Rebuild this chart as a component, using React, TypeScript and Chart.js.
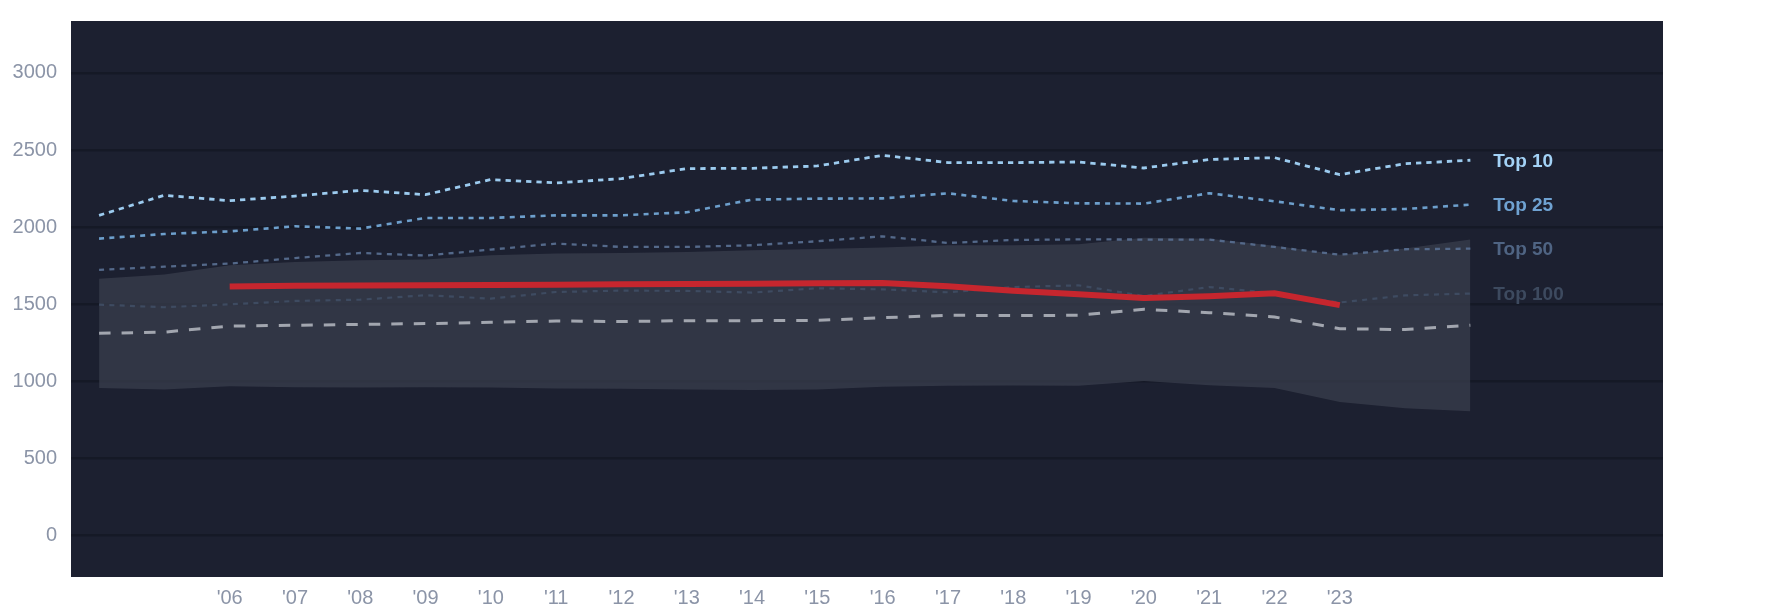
import React, { useEffect, useRef } from "react";
import { Chart, registerables } from "chart.js";

Chart.register(...registerables);

const years = [2004, 2005, 2006, 2007, 2008, 2009, 2010, 2011, 2012, 2013, 2014, 2015, 2016, 2017, 2018, 2019, 2020, 2021, 2022, 2023, 2024, 2025];
const top10 = [2077, 2207, 2172, 2202, 2239, 2211, 2309, 2287, 2315, 2380, 2382, 2397, 2466, 2419, 2419, 2423, 2384, 2439, 2451, 2341, 2412, 2434];
const top25 = [1926, 1956, 1973, 2006, 1991, 2060, 2060, 2077, 2077, 2097, 2179, 2185, 2187, 2220, 2170, 2155, 2153, 2220, 2168, 2110, 2118, 2146];
const top50 = [1723, 1744, 1764, 1800, 1833, 1816, 1855, 1894, 1872, 1872, 1883, 1909, 1941, 1898, 1917, 1921, 1920, 1920, 1872, 1822, 1857, 1861];
const top100 = [1498, 1481, 1500, 1522, 1530, 1559, 1537, 1580, 1589, 1587, 1576, 1604, 1597, 1578, 1612, 1623, 1554, 1612, 1573, 1512, 1558, 1570];
const greyLine = [1312, 1320, 1359, 1364, 1370, 1375, 1383, 1392, 1388, 1394, 1394, 1396, 1413, 1429, 1427, 1429, 1468, 1446, 1418, 1342, 1336, 1364];
const bandLow = [957, 947, 968, 962, 960, 962, 960, 955, 953, 948, 944, 947, 966, 972, 973, 972, 1003, 975, 957, 867, 826, 807];
const bandHigh = [1666, 1694, 1753, 1774, 1785, 1790, 1818, 1829, 1833, 1839, 1850, 1859, 1868, 1883, 1883, 1889, 1932, 1925, 1880, 1822, 1862, 1921];
const redYears = [2006, 2007, 2008, 2009, 2010, 2011, 2012, 2013, 2014, 2015, 2016, 2017, 2018, 2019, 2020, 2021, 2022, 2023];
const redLine = [1615, 1620, 1622, 1624, 1625, 1627, 1630, 1632, 1634, 1636, 1638, 1617, 1588, 1565, 1541, 1553, 1572, 1495];
const xTickYears = [2006, 2007, 2008, 2009, 2010, 2011, 2012, 2013, 2014, 2015, 2016, 2017, 2018, 2019, 2020, 2021, 2022, 2023];
const yTicks = [0, 500, 1000, 1500, 2000, 2500, 3000];
const seriesLabels = ["Top 10", "Top 25", "Top 50", "Top 100"];

const FONT = "'Liberation Sans', Arial, Helvetica, sans-serif";

const pts = (xs: number[], ys: number[]) => xs.map((x, i) => ({ x, y: ys[i] }));

export default function App() {
  const ref = useRef<HTMLCanvasElement | null>(null);

  useEffect(() => {
    if (!ref.current) return;

    const bgPlugin = {
      id: "areaBg",
      beforeDraw(chart: any) {
        const { ctx, chartArea } = chart;
        ctx.save();
        ctx.fillStyle = "#1c2030";
        ctx.fillRect(chartArea.left, chartArea.top, chartArea.right - chartArea.left, chartArea.bottom - chartArea.top);
        ctx.restore();
      },
    };

    const labelPlugin = {
      id: "endLabels",
      afterDatasetsDraw(chart: any) {
        const { ctx } = chart;
        ctx.save();
        ctx.font = `bold 19px ${FONT}`;
        ctx.textAlign = "left";
        ctx.textBaseline = "middle";
        chart.data.datasets.forEach((ds: any, i: number) => {
          if (!ds.endLabel) return;
          const meta = chart.getDatasetMeta(i);
          const last = meta.data[meta.data.length - 1];
          ctx.fillStyle = ds.endLabelColor;
          ctx.fillText(ds.endLabel, last.x + 23, last.y + 1);
        });
        ctx.restore();
      },
    };

    const zeroPad = (scale: any) => {
      scale.paddingTop = 0;
      scale.paddingBottom = 0;
      scale.paddingLeft = 0;
      scale.paddingRight = 0;
    };

    const chart = new Chart(ref.current, {
      type: "line",
      data: {
        datasets: [
          {
            label: "red",
            data: pts(redYears, redLine),
            borderColor: "#c6262e",
            borderWidth: 6,
            pointRadius: 0,
            fill: false,
          },
          {
            label: "Top 10",
            data: pts(years, top10),
            borderColor: "#9ccbef",
            borderWidth: 2.8,
            borderDash: [5.3, 5],
            pointRadius: 0,
            fill: false,
            endLabel: seriesLabels[0],
            endLabelColor: "#a3d2f6",
          } as any,
          {
            label: "Top 25",
            data: pts(years, top25),
            borderColor: "#6d9fcc",
            borderWidth: 2.6,
            borderDash: [5, 5.3],
            pointRadius: 0,
            fill: false,
            endLabel: seriesLabels[1],
            endLabelColor: "#6fa2d2",
          } as any,
          {
            label: "Top 50",
            data: pts(years, top50),
            borderColor: "#54698a",
            borderWidth: 2.3,
            borderDash: [5, 5.3],
            pointRadius: 0,
            fill: false,
            endLabel: seriesLabels[2],
            endLabelColor: "#4f6483",
          } as any,
          {
            label: "Top 100",
            data: pts(years, top100),
            borderColor: "#3e4b61",
            borderWidth: 2.2,
            borderDash: [5, 5.3],
            pointRadius: 0,
            fill: false,
            endLabel: seriesLabels[3],
            endLabelColor: "#3d4a5f",
          } as any,
          {
            label: "median",
            data: pts(years, greyLine),
            borderColor: "#a2a6af",
            borderWidth: 3,
            borderDash: [11.5, 11],
            pointRadius: 0,
            fill: false,
          },
          {
            label: "bandHigh",
            data: pts(years, bandHigh),
            borderWidth: 0,
            pointRadius: 0,
            borderColor: "rgba(0,0,0,0)",
            backgroundColor: "rgba(58,63,78,0.72)",
            fill: "+1",
          },
          {
            label: "bandLow",
            data: pts(years, bandLow),
            borderWidth: 0,
            pointRadius: 0,
            borderColor: "rgba(0,0,0,0)",
            fill: false,
          },
        ],
      },
      options: {
        animation: false,
        responsive: true,
        maintainAspectRatio: false,
        layout: { padding: { top: 21, right: 122, left: 0, bottom: 0 } },
        plugins: {
          legend: { display: false },
          tooltip: { enabled: false },
        },
        elements: { line: { tension: 0 } },
        scales: {
          x: {
            type: "linear",
            min: 2003.57,
            max: 2027.95,
            grid: { display: false, drawTicks: false },
            border: { display: false },
            afterBuildTicks: (scale: any) => {
              scale.ticks = xTickYears.map((v) => ({ value: v }));
            },
            afterFit: (scale: any) => {
              scale.height = 37;
              zeroPad(scale);
            },
            ticks: {
              autoSkip: false,
              maxRotation: 0,
              padding: 9,
              color: "#8b94a7",
              font: { family: FONT, size: 20 },
              callback: (v: any) => "'" + String(v).slice(2),
            },
          },
          y: {
            type: "linear",
            min: -268,
            max: 3337,
            grid: { color: "#151926", lineWidth: 2.5, drawTicks: false },
            border: { display: false },
            afterBuildTicks: (scale: any) => {
              scale.ticks = yTicks.map((v) => ({ value: v }));
            },
            afterFit: (scale: any) => {
              scale.width = 71;
              zeroPad(scale);
            },
            ticks: {
              padding: 14,
              color: "#8b94a7",
              font: { family: FONT, size: 20 },
              callback: (v: any) => String(v),
            },
          },
        },
      } as any,
      plugins: [bgPlugin, labelPlugin],
    });

    return () => chart.destroy();
  }, []);

  return (
    <div style={{ position: "fixed", left: 0, top: 0, width: 1785, height: 614, background: "#ffffff" }}>
      <canvas ref={ref} />
    </div>
  );
}
